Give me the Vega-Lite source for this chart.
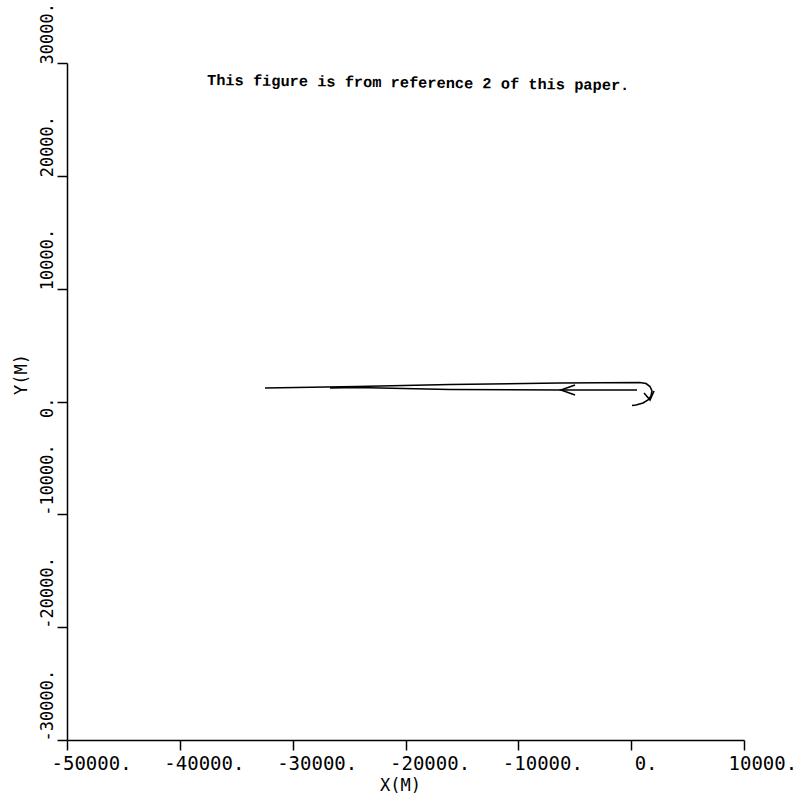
{
  "$schema": "https://vega.github.io/schema/vega-lite/v6.json",
  "width": 677,
  "height": 677,
  "autosize": "none",
  "padding": {"left": 67, "top": 63, "right": 64, "bottom": 60},
  "background": "white",
  "config": {
    "view": {"stroke": null},
    "axis": {
      "grid": false,
      "domainColor": "black",
      "domainWidth": 1.5,
      "tickColor": "black",
      "tickWidth": 1.5,
      "tickSize": 10,
      "labelFont": "DejaVu Sans Mono",
      "labelFontSize": 19,
      "labelColor": "black",
      "labelOverlap": false,
      "labelFlush": false,
      "labelBound": false,
      "titleFont": "DejaVu Sans Mono",
      "titleFontSize": 17,
      "titleFontWeight": "normal",
      "titleColor": "black"
    }
  },
  "layer": [
    {
      "data": {
        "values": [
          {"series": "A", "order": 1, "x": -32451, "y": 1195},
          {"series": "A", "order": 2, "x": -24297, "y": 1328},
          {"series": "A", "order": 3, "x": -16055, "y": 1505},
          {"series": "A", "order": 4, "x": -6305, "y": 1638},
          {"series": "A", "order": 5, "x": 785, "y": 1683},
          {"series": "A", "order": 6, "x": 1317, "y": 1594},
          {"series": "A", "order": 7, "x": 1671, "y": 1328},
          {"series": "A", "order": 8, "x": 1849, "y": 929},
          {"series": "A", "order": 9, "x": 1760, "y": 486},
          {"series": "A", "order": 10, "x": 1494, "y": 132},
          {"series": "A", "order": 11, "x": 1051, "y": -134},
          {"series": "A", "order": 12, "x": 430, "y": -311},
          {"series": "A", "order": 13, "x": 76, "y": -356},
          {"series": "B", "order": 1, "x": 519, "y": 1018},
          {"series": "B", "order": 2, "x": -6305, "y": 1018},
          {"series": "B", "order": 3, "x": -16055, "y": 1062},
          {"series": "B", "order": 4, "x": -24297, "y": 1240},
          {"series": "B", "order": 5, "x": -26690, "y": 1210},
          {"series": "C", "order": 1, "x": -4976, "y": 1461},
          {"series": "C", "order": 2, "x": -6217, "y": 1018},
          {"series": "C", "order": 3, "x": -4976, "y": 575},
          {"series": "D", "order": 1, "x": 1140, "y": 752},
          {"series": "D", "order": 2, "x": 1671, "y": 132},
          {"series": "D", "order": 3, "x": 2026, "y": 929}
        ]
      },
      "mark": {"type": "line", "color": "black", "strokeWidth": 1.6},
      "encoding": {
        "x": {
          "field": "x",
          "type": "quantitative",
          "scale": {"domain": [-50000, 10000], "nice": false, "zero": false},
          "axis": {
            "values": [-50000, -40000, -30000, -20000, -10000, 0, 10000],
            "labelExpr": "datum.value + '.'",
            "labelAlign": "left",
            "labelBaseline": "top",
            "labelPadding": 4,
            "labelOffset": {"condition": {"test": "datum.value == 0", "value": 3}, "value": -16},
            "title": "X(M)",
            "titleX": 333,
            "titleY": 50,
            "titleAlign": "center",
            "titleBaseline": "alphabetic"
          }
        },
        "y": {
          "field": "y",
          "type": "quantitative",
          "scale": {"domain": [-30000, 30000], "nice": false, "zero": false},
          "axis": {
            "values": [-30000, -20000, -10000, 0, 10000, 20000, 30000],
            "labelExpr": "datum.value + '.'",
            "labelFontSize": 17,
            "labelAngle": 270,
            "labelAlign": "left",
            "labelBaseline": "alphabetic",
            "labelPadding": 5,
            "labelOffset": {"condition": {"test": "datum.value == 0", "value": 16}, "value": 1},
            "title": "Y(M)",
            "titleAngle": 270,
            "titleX": -41,
            "titleY": 311,
            "titleAlign": "center",
            "titleBaseline": "alphabetic"
          }
        },
        "detail": {"field": "series"},
        "order": {"field": "order", "type": "quantitative"}
      }
    },
    {
      "data": {
        "values": [
          {"x": -37592, "y": 28050, "label": "This figure is from reference 2 of this paper."}
        ]
      },
      "mark": {
        "type": "text",
        "font": "Liberation Mono",
        "fontSize": 15.3,
        "fontWeight": "bold",
        "color": "black",
        "align": "left",
        "baseline": "alphabetic",
        "angle": 0.7
      },
      "encoding": {
        "x": {"field": "x", "type": "quantitative"},
        "y": {"field": "y", "type": "quantitative"},
        "text": {"field": "label"}
      }
    }
  ]
}
